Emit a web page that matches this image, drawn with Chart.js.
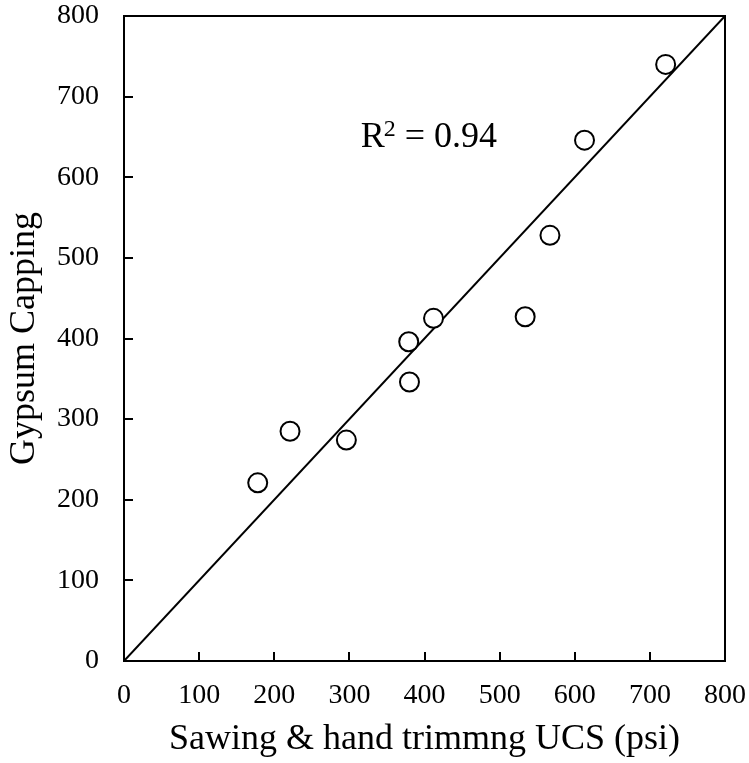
<!DOCTYPE html>
<html>
<head>
<meta charset="utf-8">
<script src="https://cdn.jsdelivr.net/npm/chart.js@4/dist/chart.umd.min.js"></script>
<style>
  html, body { margin: 0; padding: 0; background: #fff; }
  canvas { display: block; }
</style>
</head>
<body>
<canvas id="ucs" width="749" height="763"></canvas>
<script>
// UCS (psi) measured on the same specimens with two end-preparation methods
const sawingUCS = [178, 221, 296, 379, 380, 412, 534, 567, 613, 721];
const gypsumUCS = [221, 285, 274, 396, 346, 425, 427, 528, 646, 740];

// 1:1 reference line
const lineX = [0, 800];
const lineY = [0, 800];

const axisMin = 0;
const axisMax = 800;
const axisStep = 100;
const rSquared = '0.94';
const rLabelAt = { x: 315, y: 638 };

const serif = '"Liberation Serif", "Times New Roman", serif';

// Box around the plot area with inward tick marks, plus the R² note
const framePlugin = {
  id: 'frame',
  afterDatasetsDraw(chart) {
    const { ctx, chartArea: a, scales } = chart;
    ctx.save();
    ctx.strokeStyle = '#000';
    ctx.lineWidth = 2;
    ctx.strokeRect(a.left, a.top, a.right - a.left, a.bottom - a.top);
    const len = 9;
    ctx.beginPath();
    scales.x.ticks.forEach(t => {
      const px = Math.round(scales.x.getPixelForValue(t.value));
      ctx.moveTo(px, a.bottom);
      ctx.lineTo(px, a.bottom - len);
    });
    scales.y.ticks.forEach(t => {
      const py = Math.round(scales.y.getPixelForValue(t.value));
      ctx.moveTo(a.left, py);
      ctx.lineTo(a.left + len, py);
    });
    ctx.stroke();

    // R² = value
    const x0 = scales.x.getPixelForValue(rLabelAt.x);
    const y0 = scales.y.getPixelForValue(rLabelAt.y);
    ctx.fillStyle = '#000';
    ctx.textBaseline = 'alphabetic';
    ctx.textAlign = 'left';
    ctx.font = '36px ' + serif;
    ctx.fillText('R', x0, y0);
    let x = x0 + ctx.measureText('R').width - 1;
    ctx.font = '24px ' + serif;
    ctx.fillText('2', x, y0 - 11);
    x += ctx.measureText('2').width;
    ctx.font = '36px ' + serif;
    ctx.fillText(' = ' + rSquared, x, y0);
    ctx.restore();
  }
};

// fixed axis band sizes; the layout padding alone places the plot box
function fixBand(size) {
  return function (s) {
    if (s.isHorizontal()) s.height = size; else s.width = size;
    s.paddingLeft = s.paddingRight = s.paddingTop = s.paddingBottom = 0;
  };
}

new Chart(document.getElementById('ucs'), {
  type: 'scatter',
  data: {
    datasets: [
      {
        label: 'UCS',
        data: sawingUCS.map((v, i) => ({ x: v, y: gypsumUCS[i] })),
        pointStyle: 'circle',
        pointRadius: 9.5,
        pointHoverRadius: 9.5,
        pointBorderWidth: 2,
        pointBackgroundColor: '#fff',
        pointBorderColor: '#000',
        order: 1
      },
      {
        label: '1:1',
        data: lineX.map((v, i) => ({ x: v, y: lineY[i] })),
        showLine: true,
        borderColor: '#000',
        borderWidth: 2,
        pointRadius: 0,
        order: 2
      }
    ]
  },
  options: {
    responsive: false,
    animation: false,
    events: [],
    layout: { padding: { left: 0, top: 16, right: 24, bottom: 0 } },
    plugins: {
      legend: { display: false },
      tooltip: { enabled: false }
    },
    scales: {
      x: {
        type: 'linear',
        min: axisMin,
        max: axisMax,
        afterFit: fixBand(102),
        ticks: {
          stepSize: axisStep,
          color: '#000',
          padding: 18,
          font: { family: serif, size: 28 }
        },
        grid: { display: false, drawTicks: false },
        border: { display: false },
        title: {
          display: true,
          text: 'Sawing & hand trimmng UCS (psi)',
          color: '#000',
          font: { family: serif, size: 36 },
          padding: { top: 0, bottom: 2 }
        }
      },
      y: {
        type: 'linear',
        min: axisMin,
        max: axisMax,
        afterFit: fixBand(124),
        ticks: {
          stepSize: axisStep,
          color: '#000',
          padding: 25,
          font: { family: serif, size: 28 }
        },
        grid: { display: false, drawTicks: false },
        border: { display: false },
        title: {
          display: true,
          text: 'Gypsum Capping',
          color: '#000',
          font: { family: serif, size: 36 },
          padding: { top: 3, bottom: 0 }
        }
      }
    }
  },
  plugins: [framePlugin]
});
</script>
</body>
</html>
